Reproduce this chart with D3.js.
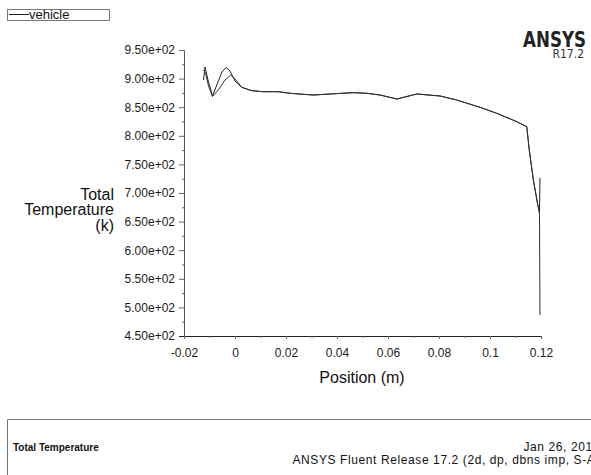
<!DOCTYPE html>
<html>
<head>
<meta charset="utf-8">
<script src="https://cdn.jsdelivr.net/npm/d3@7"></script>
<style>
  body { margin: 0; background: #fff; }
  svg { font-family: "Liberation Sans", Arial, sans-serif; }
</style>
</head>
<body>
<svg id="chart" width="591" height="475"></svg>
<script>
// values
const upperStartPos  = [-0.01235, -0.01176, -0.01059, -0.00882, -0.00667, -0.0051, -0.00353, -0.00196, 0.0];
const upperStartTemp = [897.6, 920.3, 897.6, 869.6, 894.1, 911.5, 919.4, 913.3, 895.8];
const lowerStartPos  = [-0.01235, -0.01157, -0.01039, -0.00882, -0.00627, -0.00392, -0.00169, 0.00039];
const lowerStartTemp = [915.0, 909.8, 887.1, 868.7, 881.8, 897.6, 906.3, 897.6];

const trunkPos  = [0.00263, 0.00655, 0.011, 0.0169, 0.0216, 0.0306, 0.0373, 0.0463, 0.0518, 0.0569, 0.0635,
                   0.0713, 0.0804, 0.0869, 0.0961, 0.1026, 0.1105, 0.1144, 0.1154, 0.117, 0.1186, 0.1194];
const trunkTemp = [884.8, 878.9, 877.1, 877.1, 874.3, 871.3, 873.1, 875.4, 874.3, 871.3, 864.3,
                   873.1, 869.6, 862.6, 849.8, 839.4, 824.7, 815.9, 775.2, 722.8, 682.6, 665.1];

const upperEndPos = 0.1196, upperEndTemp = 726.3;
const lowerEndPos = 0.1196, lowerEndTemp = 486.8;

const xTicks = [-0.02, 0, 0.02, 0.04, 0.06, 0.08, 0.1, 0.12];
const xTickLabels = ['-0.02', '0', '0.02', '0.04', '0.06', '0.08', '0.1', '0.12'];
const yTicks = [450, 500, 550, 600, 650, 700, 750, 800, 850, 900, 950];
const yTickLabels = ['4.50e+02', '5.00e+02', '5.50e+02', '6.00e+02', '6.50e+02', '7.00e+02',
                     '7.50e+02', '8.00e+02', '8.50e+02', '9.00e+02', '9.50e+02'];

const svg = d3.select('svg#chart');

const x = d3.scaleLinear().domain([-0.02, 0.12]).range([184, 541]);
const y = d3.scaleLinear().domain([450, 950]).range([336, 50]);

const buildSeries = (sp, st, ep, et) => {
  const pts = sp.map((p, i) => [p, st[i]]);
  trunkPos.forEach((p, i) => pts.push([p, trunkTemp[i]]));
  pts.push([ep, et]);
  return pts;
};
const upper = buildSeries(upperStartPos, upperStartTemp, upperEndPos, upperEndTemp);
const lower = buildSeries(lowerStartPos, lowerStartTemp, lowerEndPos, lowerEndTemp);

// axes
const yAxis = d3.axisLeft(y).tickValues(yTicks).tickSize(5).tickFormat((d, i) => yTickLabels[i]);
const yMinor = d3.axisLeft(y).tickValues(d3.range(475, 950, 50)).tickSize(2).tickFormat('');
const xAxis = d3.axisBottom(x).tickValues(xTicks).tickSize(3).tickFormat((d, i) => xTickLabels[i]);
const xMinor = d3.axisBottom(x).tickValues(d3.range(-0.01, 0.12, 0.02)).tickSize(2).tickFormat('');

const gy = svg.append('g').attr('transform', 'translate(184,0)').call(yAxis);
svg.append('g').attr('transform', 'translate(184,0)').call(yMinor).select('.domain').remove();
const gx = svg.append('g').attr('transform', 'translate(0,336)').call(xAxis);
svg.append('g').attr('transform', 'translate(0,336)').call(xMinor).select('.domain').remove();

gy.select('.domain').attr('d', 'M-5,50.5H0.5V336.5').attr('stroke', '#555');
gx.select('.domain').attr('d', 'M179,336.5H541.5').attr('transform', 'translate(0,-336)').attr('stroke', '#222');
svg.selectAll('.tick line').attr('stroke', '#666');
gy.selectAll('.tick text').attr('font-size', 12).attr('fill', '#1a1a1a').attr('x', -9).attr('font-family', 'Liberation Sans');
gx.selectAll('.tick text').attr('font-size', 12).attr('fill', '#1a1a1a').attr('y', 12).attr('font-family', 'Liberation Sans');

// lines
const line = d3.line().x(d => x(d[0])).y(d => y(d[1]));
svg.append('path').datum(upper).attr('d', line).attr('fill', 'none').attr('stroke', '#222').attr('stroke-width', 1);
svg.append('path').datum(lower).attr('d', line).attr('fill', 'none').attr('stroke', '#333').attr('stroke-width', 1);

// axis titles
const yTitle = svg.append('text').attr('font-size', 16).attr('text-anchor', 'end').attr('fill', '#111');
yTitle.append('tspan').attr('x', 114).attr('y', 200).text('Total');
yTitle.append('tspan').attr('x', 114).attr('y', 215).text('Temperature');
yTitle.append('tspan').attr('x', 114).attr('y', 231).text('(k)');

svg.append('text').attr('x', 362).attr('y', 383).attr('font-size', 16).attr('text-anchor', 'middle')
  .attr('fill', '#111').text('Position (m)');

// legend
const legend = svg.append('g');
legend.append('rect').attr('x', 7.5).attr('y', 9.5).attr('width', 102).attr('height', 11)
  .attr('fill', '#fff').attr('stroke', '#777');
legend.append('line').attr('x1', 9).attr('y1', 14.5).attr('x2', 29).attr('y2', 14.5).attr('stroke', '#222');
legend.append('text').attr('x', 29).attr('y', 19).attr('font-size', 13).attr('fill', '#111').text('vehicle');

// logo
svg.append('text').attr('x', 586).attr('y', 47).attr('text-anchor', 'end')
  .attr('font-family', '"DejaVu Sans Condensed", "DejaVu Sans"').attr('font-weight', 'bold')
  .attr('font-size', 21).attr('fill', '#222').attr('textLength', 63).attr('lengthAdjust', 'spacingAndGlyphs')
  .text('ANSYS');
svg.append('text').attr('x', 584).attr('y', 58).attr('text-anchor', 'end')
  .attr('font-family', '"DejaVu Sans Condensed", "DejaVu Sans"')
  .attr('font-size', 12).attr('fill', '#333').text('R17.2');

// footer box
svg.append('path').attr('d', 'M7.5,475V419.5H591').attr('fill', 'none').attr('stroke', '#777');
svg.append('text').attr('x', 13).attr('y', 451).attr('font-size', 10).attr('font-weight', 'bold')
  .attr('fill', '#111').text('Total Temperature');
svg.append('text').attr('x', 600).attr('y', 451).attr('text-anchor', 'end').attr('font-size', 12)
  .attr('letter-spacing', 0.6).attr('fill', '#111').text('Jan 26, 2018');
svg.append('text').attr('x', 600).attr('y', 464).attr('text-anchor', 'end').attr('font-size', 12)
  .attr('letter-spacing', 0.6).attr('fill', '#111').text('ANSYS Fluent Release 17.2 (2d, dp, dbns imp, S-A)');
</script>
</body>
</html>
